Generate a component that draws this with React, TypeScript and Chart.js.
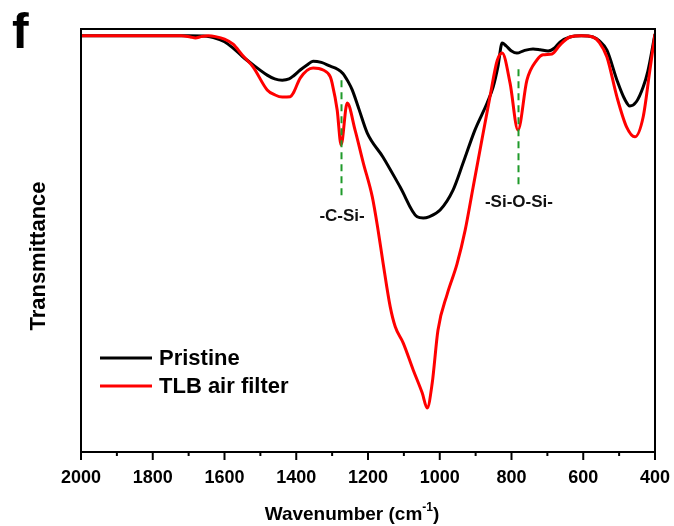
import React, { useEffect, useRef } from "react";
import { Chart, registerables } from "chart.js";

Chart.register(...registerables);

// Pristine (black) spectrum: wavenumber (cm-1) and transmittance (a.u.)
const pristineWn = [2000, 1900, 1800, 1700, 1650, 1631, 1600, 1576, 1550, 1520, 1481, 1460, 1439, 1420, 1408, 1389, 1370, 1353, 1330, 1305, 1285, 1270, 1255, 1244, 1225, 1202, 1158, 1110, 1063, 1046, 1030, 999, 963, 935, 902, 868, 851, 838, 826, 815, 800, 785, 765, 740, 720, 698, 680, 665, 637, 605, 573, 555, 534, 506, 485, 470, 452, 433, 420, 400];
const pristineT = [98.4, 98.4, 98.4, 98.4, 98.3, 98.0, 97.0, 95.5, 93.5, 91.5, 89.1, 88.2, 87.9, 88.2, 88.9, 90.3, 91.5, 92.4, 92.1, 91.2, 90.5, 89.5, 87.5, 85.6, 81.0, 75.4, 69.7, 62.6, 55.6, 55.3, 55.6, 57.2, 61.9, 68.3, 76.1, 82.5, 86.3, 91.0, 96.7, 96.0, 94.8, 94.3, 94.9, 95.3, 95.1, 94.8, 95.5, 96.9, 98.1, 98.4, 98.1, 97.2, 95.0, 87.9, 83.5, 81.8, 82.8, 86.3, 90.0, 98.8];

// TLB air filter (red) spectrum
const tlbWn = [2000, 1900, 1800, 1720, 1695, 1681, 1665, 1645, 1625, 1600, 1576, 1550, 1520, 1481, 1459, 1439, 1417, 1408, 1389, 1353, 1325, 1305, 1300, 1286, 1275, 1258, 1236, 1213, 1188, 1172, 1158, 1138, 1124, 1102, 1074, 1049, 1035, 1021, 1005, 979, 952, 929, 907, 879, 860, 840, 826, 804, 782, 757, 729, 712, 687, 665, 637, 605, 573, 555, 534, 506, 479, 456, 433, 415, 400];
const tlbT = [98.4, 98.4, 98.4, 98.4, 98.1, 97.9, 98.2, 98.4, 98.2, 97.6, 96.4, 93.8, 91.0, 85.6, 84.4, 83.9, 84.0, 84.9, 88.4, 90.8, 90.3, 88.7, 87.2, 80.9, 72.6, 82.5, 76.1, 68.3, 60.3, 52.5, 44.7, 34.3, 29.6, 25.8, 19.4, 14.0, 10.4, 16.3, 28.8, 37.4, 44.4, 52.5, 62.6, 75.4, 84.0, 92.5, 94.3, 87.2, 76.1, 87.9, 92.7, 93.9, 94.1, 96.2, 98.1, 98.4, 98.1, 96.8, 93.4, 83.9, 76.8, 74.5, 79.2, 89.8, 98.8];

const seriesNames = ["Pristine", "TLB air filter"];
const seriesColors = ["#000000", "#ff0000"];

const majorTicks = [2000, 1800, 1600, 1400, 1200, 1000, 800, 600, 400];
const minorTicks = [1900, 1700, 1500, 1300, 1100, 900, 700, 500];

// Band markers: position, line range (transmittance), label, label height
const bandWn = [1275, 782];
const bandTop = [87.9, 90.5];
const bandBottom = [60.0, 63.1];
const bandLabels = ["-C-Si-", "-Si-O-Si-"];
const bandLabelT = [55.6, 59.1];

const FONT = '"Liberation Sans", Arial, sans-serif';

const overlay = {
  id: "overlay",
  afterDatasetsDraw(chart: any) {
    const { ctx, scales } = chart;
    const x = scales.x;
    const y = scales.y;
    ctx.save();
    ctx.strokeStyle = "#1f9a2a";
    ctx.lineWidth = 2;
    ctx.setLineDash([7, 5]);
    bandWn.forEach((wn, i) => {
      const px = Math.round(x.getPixelForValue(wn)) + 0.5;
      ctx.beginPath();
      ctx.moveTo(px, y.getPixelForValue(bandTop[i]));
      ctx.lineTo(px, y.getPixelForValue(bandBottom[i]));
      ctx.stroke();
    });
    ctx.setLineDash([]);
    ctx.fillStyle = "#111";
    ctx.font = `bold 17px ${FONT}`;
    ctx.textAlign = "center";
    ctx.textBaseline = "middle";
    bandLabels.forEach((lab, i) => {
      ctx.fillText(lab, x.getPixelForValue(bandWn[i]) + 1, y.getPixelForValue(bandLabelT[i]));
    });
    ctx.restore();
  },
  afterDraw(chart: any) {
    const { ctx, chartArea: a, scales } = chart;
    const x = scales.x;
    ctx.save();
    // frame
    ctx.strokeStyle = "#000";
    ctx.lineWidth = 2;
    ctx.strokeRect(a.left, a.top, a.right - a.left, a.bottom - a.top);
    // ticks
    ctx.lineWidth = 2;
    majorTicks.forEach((t) => {
      const px = x.getPixelForValue(t);
      ctx.beginPath();
      ctx.moveTo(px, a.bottom);
      ctx.lineTo(px, a.bottom + 8);
      ctx.stroke();
    });
    minorTicks.forEach((t) => {
      const px = x.getPixelForValue(t);
      ctx.beginPath();
      ctx.moveTo(px, a.bottom);
      ctx.lineTo(px, a.bottom + 4);
      ctx.stroke();
    });
    // tick labels
    ctx.fillStyle = "#000";
    ctx.font = `bold 18px ${FONT}`;
    ctx.textAlign = "center";
    ctx.textBaseline = "alphabetic";
    majorTicks.forEach((t) => {
      ctx.fillText(String(t), x.getPixelForValue(t), a.bottom + 31);
    });
    // x title with superscript
    const main = "Wavenumber (cm";
    const sup = "-1";
    const close = ")";
    ctx.font = `bold 19px ${FONT}`;
    const w1 = ctx.measureText(main).width;
    const w3 = ctx.measureText(close).width;
    ctx.font = `bold 12px ${FONT}`;
    const w2 = ctx.measureText(sup).width;
    const total = w1 + w2 + w3;
    const sx = 352 - total / 2;
    const by = 520;
    ctx.textAlign = "left";
    ctx.font = `bold 19px ${FONT}`;
    ctx.fillText(main, sx, by);
    ctx.font = `bold 12px ${FONT}`;
    ctx.fillText(sup, sx + w1, by - 9);
    ctx.font = `bold 19px ${FONT}`;
    ctx.fillText(close, sx + w1 + w2, by);
    // y title
    ctx.save();
    ctx.translate(45, 256);
    ctx.rotate(-Math.PI / 2);
    ctx.font = `bold 22px ${FONT}`;
    ctx.textAlign = "center";
    ctx.textBaseline = "alphabetic";
    ctx.fillText("Transmittance", 0, 0);
    ctx.restore();
    // panel label
    ctx.font = `bold 50px ${FONT}`;
    ctx.textAlign = "left";
    ctx.fillText("f", 12, 48);
    // legend
    const ly = [358, 386];
    seriesNames.forEach((name, i) => {
      ctx.strokeStyle = seriesColors[i];
      ctx.lineWidth = 3;
      ctx.beginPath();
      ctx.moveTo(100, ly[i]);
      ctx.lineTo(152, ly[i]);
      ctx.stroke();
      ctx.fillStyle = "#000";
      ctx.font = `bold 22px ${FONT}`;
      ctx.textBaseline = "middle";
      ctx.fillText(name, 159, ly[i] + 1);
    });
    ctx.restore();
  },
};

export default function App() {
  const ref = useRef<HTMLCanvasElement>(null);
  useEffect(() => {
    if (!ref.current) return;
    const chart = new Chart(ref.current, {
      type: "line",
      data: {
        datasets: [
          {
            label: seriesNames[1],
            data: tlbWn.map((w, i) => ({ x: w, y: tlbT[i] })),
            borderColor: seriesColors[1],
            borderWidth: 3,
            pointRadius: 0,
            cubicInterpolationMode: "monotone",
            fill: false,
          },
          {
            label: seriesNames[0],
            data: pristineWn.map((w, i) => ({ x: w, y: pristineT[i] })),
            borderColor: seriesColors[0],
            borderWidth: 3,
            pointRadius: 0,
            cubicInterpolationMode: "monotone",
            fill: false,
          },
        ],
      },
      options: {
        animation: false,
        responsive: false,
        devicePixelRatio: 1,
        layout: { padding: { left: 81, right: 19, top: 29, bottom: 74 } },
        plugins: { legend: { display: false }, tooltip: { enabled: false } },
        scales: {
          x: { type: "linear", reverse: true, min: 400, max: 2000, display: false },
          y: { type: "linear", min: 0, max: 100, display: false },
        },
      },
      plugins: [overlay],
    });
    return () => chart.destroy();
  }, []);
  return (
    <div style={{ position: "fixed", left: 0, top: 0, width: 674, height: 526, background: "#fff" }}>
      <canvas ref={ref} width={674} height={526} />
    </div>
  );
}
